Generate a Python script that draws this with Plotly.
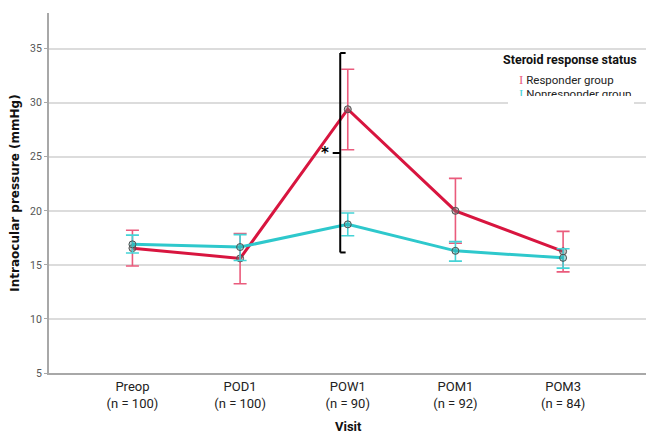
import plotly.graph_objects as go

visits = ["Preop", "POD1", "POW1", "POM1", "POM3"]
n_counts = [100, 100, 90, 92, 84]

resp_mean = [16.55, 15.6, 29.4, 20.0, 16.25]
resp_upper = [18.2, 17.9, 33.1, 23.0, 18.1]
resp_lower = [14.9, 13.25, 25.65, 17.0, 14.35]

nonresp_mean = [16.9, 16.65, 18.75, 16.3, 15.65]
nonresp_upper = [17.75, 17.8, 19.8, 17.15, 16.5]
nonresp_lower = [16.1, 15.4, 17.7, 15.35, 14.7]

y_ticks = [5, 10, 15, 20, 25, 30, 35]
y_range = [5, 38.3]

# significance bracket (POW1)
bracket_low, bracket_high, bracket_mid = 16.15, 34.6, 25.35

labels = [f"{v}<br>(n = {n})" for v, n in zip(visits, n_counts)]
xs = list(range(len(visits)))

RED = "#d8153f"
RED_EB = "#ea5b7c"
CYAN = "#2ec8cc"
CYAN_EB = "#45d3d6"

fig = go.Figure()

def add_series(mean, upper, lower, color, ebcolor, fill, name):
    fig.add_trace(go.Scatter(
        x=xs, y=mean, mode="lines+markers", name=name,
        line=dict(color=color, width=3),
        marker=dict(size=7, color=fill, line=dict(color="#505050", width=1)),
        error_y=dict(type="data", symmetric=False,
                     array=[u - m for u, m in zip(upper, mean)],
                     arrayminus=[m - l for m, l in zip(mean, lower)],
                     color=ebcolor, thickness=1.6, width=6.5),
        showlegend=False,
    ))

add_series(resp_mean, resp_upper, resp_lower, RED, RED_EB, "rgba(120,120,120,0.45)", "Responder group")
add_series(nonresp_mean, nonresp_upper, nonresp_lower, CYAN, CYAN_EB, "rgba(46,170,174,0.45)", "Nonresponder group")

# page has an 8px body margin; figure is sized to fill the rest of the window
OFF = 8
W, H = 654 - OFF, 435 - OFF
L, T = 41, 5
R, B = 8, 62
pw, ph = W - L - R, H - T - B

def px(xp):
    return (xp - OFF - L) / pw

def py(yp):
    return 1 - (yp - OFF - T) / ph

bx = 2 - 0.07
shapes = [
    dict(type="line", xref="x", yref="y", x0=bx, x1=bx, y0=bracket_low, y1=bracket_high,
         line=dict(color="black", width=2)),
    dict(type="line", xref="x", yref="y", x0=bx, x1=bx + 0.05, y0=bracket_high, y1=bracket_high,
         line=dict(color="black", width=2)),
    dict(type="line", xref="x", yref="y", x0=bx, x1=bx + 0.05, y0=bracket_low, y1=bracket_low,
         line=dict(color="black", width=2)),
    dict(type="line", xref="x", yref="y", x0=bx - 0.07, x1=bx, y0=bracket_mid, y1=bracket_mid,
         line=dict(color="black", width=2)),
    # legend box covering gridline
    dict(type="rect", xref="paper", yref="paper", x0=px(508), x1=px(634), y0=py(106), y1=py(64),
         fillcolor="white", line=dict(width=0), layer="above"),
]

cond = "Roboto, sans-serif"

annotations = [
    dict(x=bx - 0.14, y=bracket_mid, xref="x", yref="y", text="<b>*</b>", showarrow=False,
         font=dict(size=15, color="black", family="DejaVu Sans"), xanchor="center", yanchor="middle"),
    dict(x=px(501), y=py(59), xref="paper", yref="paper", text="<b>Steroid response status</b>",
         showarrow=False, xanchor="left", yanchor="middle",
         font=dict(size=12.5, color="#111", family=cond)),
    dict(x=px(517), y=py(79), xref="paper", yref="paper",
         text=f"<span style='color:{RED_EB};font-family:Liberation Serif;font-size:13px'>I</span> Responder group",
         showarrow=False, xanchor="left", yanchor="middle",
         font=dict(size=11.5, color="#222", family=cond)),
    dict(x=px(517), y=py(84), xref="paper", yref="paper",
         text=f"<span style='color:{CYAN_EB};font-family:Liberation Serif;font-size:13px'>I</span> Nonresponder group",
         showarrow=False, xanchor="left", yanchor="top", valign="top", height=10,
         font=dict(size=11.5, color="#222", family=cond)),
    dict(x=px(348), y=py(427), xref="paper", yref="paper", text="<b>Visit</b>",
         showarrow=False, xanchor="center", yanchor="middle",
         font=dict(size=13, color="#111", family=cond)),
]

fig.update_layout(
    width=W, height=H,
    margin=dict(l=L, r=R, t=T, b=B, autoexpand=False),
    paper_bgcolor="white", plot_bgcolor="white",
    shapes=shapes, annotations=annotations,
    xaxis=dict(range=[-0.775, 4.77], tickmode="array", tickvals=xs, ticktext=labels,
               showgrid=False, zeroline=False, showline=True, linecolor="#a8a8a8", linewidth=2,
               ticks="", tickfont=dict(size=13, color="#222", family=cond)),
    yaxis=dict(range=y_range, tickmode="array", tickvals=y_ticks,
               showgrid=True, gridcolor="#dcdcdc", gridwidth=2, zeroline=False,
               showline=True, linecolor="#a8a8a8", linewidth=2,
               ticks="outside", ticklen=3, tickcolor="#a8a8a8",
               tickfont=dict(size=10.5, color="#555", family=cond),
               title=dict(text="<b>Intraocular pressure (mmHg)</b>",
                          font=dict(size=12, color="#111", family="DejaVu Sans"), standoff=12)),
)

fig.write_html("out.html")
